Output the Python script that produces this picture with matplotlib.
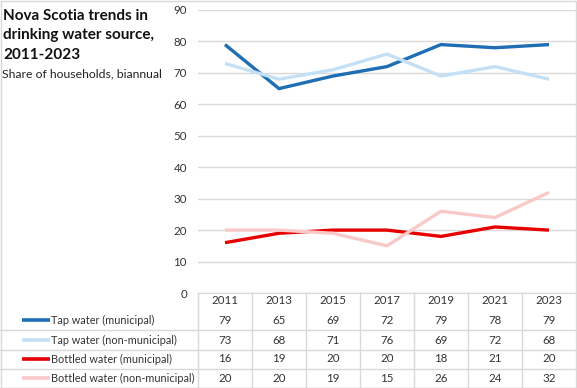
import matplotlib.pyplot as plt
from matplotlib.lines import Line2D
from matplotlib.transforms import blended_transform_factory

plt.rcParams['font.family'] = ['Lato', 'DejaVu Sans']

years = ['2011', '2013', '2015', '2017', '2019', '2021', '2023']
tap_muni = [79, 65, 69, 72, 79, 78, 79]
tap_non = [73, 68, 71, 76, 69, 72, 68]
bottled_muni = [16, 19, 20, 20, 18, 21, 20]
bottled_non = [20, 20, 19, 15, 26, 24, 32]

series = [
    ('Tap water (municipal)', tap_muni, '#1f6db3'),
    ('Tap water (non-municipal)', tap_non, '#c4e0f6'),
    ('Bottled water (municipal)', bottled_muni, '#e60000'),
    ('Bottled water (non-municipal)', bottled_non, '#f9c9c9'),
]

W, H = 577, 388
fig = plt.figure(figsize=(W / 100, H / 100), dpi=100)

def fx(p):
    return p / W

def fy(p):
    return 1 - p / H

grid_c = '#d9d9d9'
txt_c = '#333333'

# plot area
x0, x1, ytop, ybot = 198, 576, 10, 293
ax = fig.add_axes([fx(x0), fy(ybot), fx(x1 - x0), (ybot - ytop) / H])
xs = list(range(len(years)))
for name, vals, col in series:
    ax.plot(xs, vals, color=col, lw=2.4, solid_capstyle='butt', zorder=3)

ax.set_xlim(-0.5, len(years) - 0.5)
ax.set_ylim(0, 90)
ax.set_yticks(range(0, 91, 10))
ax.yaxis.grid(True, color=grid_c, lw=1)
ax.set_axisbelow(True)
ax.set_xticks([])
for s in ['top', 'right', 'left']:
    ax.spines[s].set_visible(False)
ax.spines['bottom'].set_color(grid_c)
ax.tick_params(axis='y', length=0, labelsize=8.3, labelcolor=txt_c, pad=8)

# title block, one line at a time
title_lines = ['Nova Scotia trends in', 'drinking water source,', '2011-2023']
for k, line in enumerate(title_lines):
    fig.text(fx(3), fy(16 + k * 19.5), line, fontsize=11, fontweight='bold',
             color='#111111', va='center', ha='left')
fig.text(fx(2), fy(74), 'Share of households, biannual', fontsize=8.8,
         color='#222222', va='center', ha='left')

# data table
tr = blended_transform_factory(ax.transData, fig.transFigure)
year_y = 301
row_y = [320, 340, 359, 378]
for i, yr in enumerate(years):
    ax.text(i, fy(year_y), yr, transform=tr, ha='center', va='center',
            fontsize=8.3, color=txt_c, clip_on=False)
    fig.add_artist(Line2D([fx(x0 + i * 54), fx(x0 + i * 54)], [fy(ybot), fy(H)],
                          color=grid_c, lw=1))
for r, (name, vals, col) in enumerate(series):
    yy = fy(row_y[r])
    fig.add_artist(Line2D([fx(22), fx(50)], [yy, yy], color=col, lw=2.6,
                          solid_capstyle='butt'))
    fig.text(fx(51), yy, name, fontsize=7.8, color=txt_c, va='center', ha='left')
    for i, v in enumerate(vals):
        ax.text(i, yy, str(v), transform=tr, ha='center', va='center',
                fontsize=8.3, color=txt_c, clip_on=False)
    yl = fy(row_y[r] + 9.7)
    fig.add_artist(Line2D([fx(0), fx(576)], [yl, yl], color=grid_c, lw=1))

# outer frame
fig.add_artist(plt.Rectangle((0.001, 0.001), 0.998, 0.997, transform=fig.transFigure,
                             fill=False, edgecolor=grid_c, lw=1))

fig.savefig('out.png', dpi=100)
